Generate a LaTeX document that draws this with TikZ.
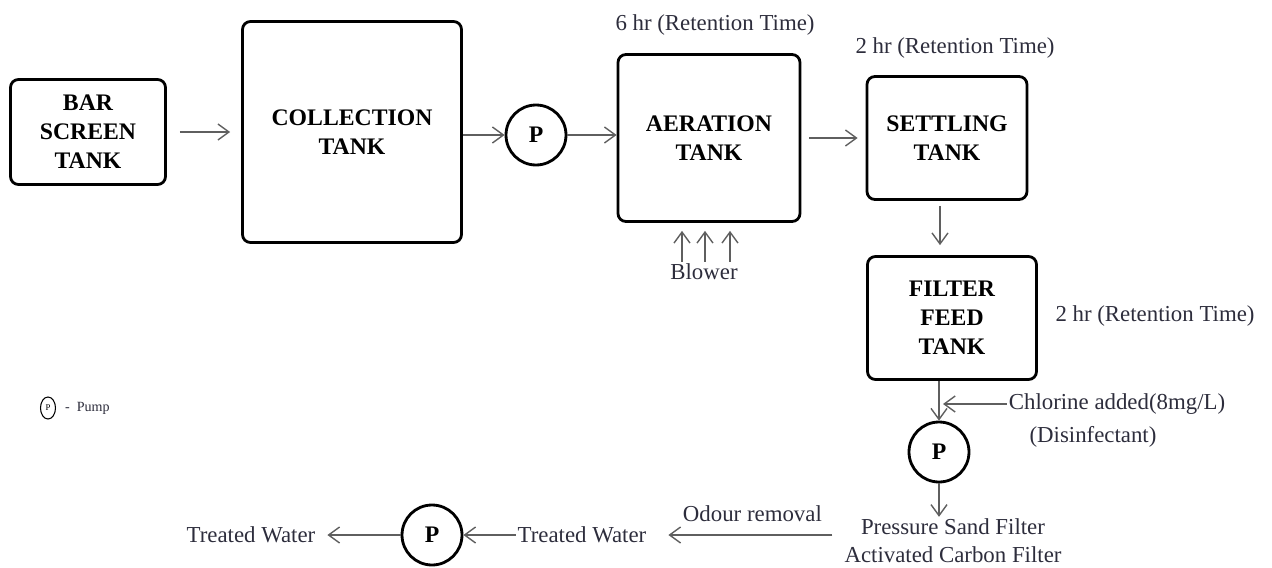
\documentclass[tikz,border=0pt]{standalone}
\usepackage{fontspec}
\setmainfont{Liberation Serif}
\usepackage{tikz}
\usetikzlibrary{positioning, calc, shapes.geometric, arrows.meta}
\usepackage{xcolor}
\definecolor{ink}{RGB}{45,45,60}
\definecolor{pipe}{RGB}{95,95,95}

\begin{document}
\begin{tikzpicture}[x=0.02cm, y=-0.02cm,
      tank/.style={draw, line width=1.6pt, rounded corners=4.5pt, align=center, font=\fontsize{13.5}{16.5}\selectfont\bfseries},
      pump/.style={circle, draw, line width=1.6pt, minimum size=1.2cm, inner sep=0pt, font=\fontsize{13.5}{16}\selectfont\bfseries},
      lbl/.style={text=ink, font=\fontsize{13}{16}\selectfont, align=center, inner sep=1pt},
      arrow/.style={draw=pipe, line width=0.8pt, -{Straight Barb[length=2.2mm, width=3.2mm]}}
    ]
      \useasboundingbox (0,0) rectangle (1272,568);

      \node[tank, minimum width=3.1cm, minimum height=2.1cm] (bar) at (88,132) {BAR\\SCREEN\\TANK};
      \node[tank, minimum width=4.38cm, minimum height=4.42cm] (coll) at (352,132) {COLLECTION\\TANK};
      \node[pump] (pump1) at (536,135) {P};
      \node[tank, minimum width=3.64cm, minimum height=3.34cm] (aer) at (709,138) {AERATION\\TANK};
      \node[tank, minimum width=3.2cm, minimum height=2.46cm] (settle) at (947,138) {SETTLING\\TANK};
      \node[tank, minimum width=3.38cm, minimum height=2.46cm] (filt) at (952,318) {FILTER\\FEED\\TANK};
      \node[pump] (pump2) at (939,452) {P};
      \node[pump] (pump3) at (432,535) {P};

      \node[lbl] (rt1) at (715,25) {6 hr (Retention Time)};
      \node[lbl] (rt2) at (955,48) {2 hr (Retention Time)};
      \node[lbl] (rt3) at (1155,316) {2 hr (Retention Time)};
      \node[lbl] (blow) at (704,272) {Blower};
      \node[lbl] (chl) at (1117,404) {Chlorine added(8mg/L)};
      \node[lbl] (dis) at (1093,437) {(Disinfectant)};
      \node[lbl] (psf) at (953,541) {Pressure Sand Filter\\Activated Carbon Filter};
      \node[lbl] (tw1) at (582,535) {Treated Water};
      \node[lbl] (tw2) at (251,535) {Treated Water};

      % legend
      \node[ellipse, draw, line width=0.6pt, minimum width=0.3cm, minimum height=0.44cm, inner sep=0pt, font=\fontsize{5}{6}\selectfont] (key) at (48,408) {P};
      \node[lbl, font=\fontsize{8}{10}\selectfont, right=0.14cm of key] (keytxt) {-\ \ Pump};

      \draw[arrow, shorten <=0.26cm, shorten >=0.22cm] (bar) -- (coll);
      \draw[arrow] (coll.east |- pump1) -- (pump1);
      \draw[arrow] (pump1) -- (aer.west |- pump1);
      \draw[arrow, shorten <=0.16cm, shorten >=0.16cm] (aer) -- (settle);
      \draw[arrow, shorten <=0.1cm, shorten >=0.2cm] ([xshift=-0.14cm]settle.south) -- ([xshift=-0.14cm]settle.south |- filt.north);
      \foreach \dx in {-0.44,0.02,0.52}
        \draw[arrow, shorten >=0.16cm] ([xshift=\dx cm]blow.north) -- ([xshift=\dx cm]blow.north |- aer.south);
      \draw[arrow] (filt.south -| pump2) -- (pump2);
      \draw[arrow, shorten >=0.08cm] (chl.west) -- (chl.west -| pump2);
      \draw[arrow] (pump2) -- (pump2 |- psf.north);
      \draw[arrow, shorten <=0.2cm, shorten >=0.4cm] (psf.west |- tw1) -- (tw1) node[midway, above=6pt, xshift=0.14cm, lbl] {Odour removal};
      \draw[arrow] (tw1) -- (pump3);
      \draw[arrow, shorten >=0.2cm] (pump3) -- (tw2);
    \end{tikzpicture}
\end{document}
